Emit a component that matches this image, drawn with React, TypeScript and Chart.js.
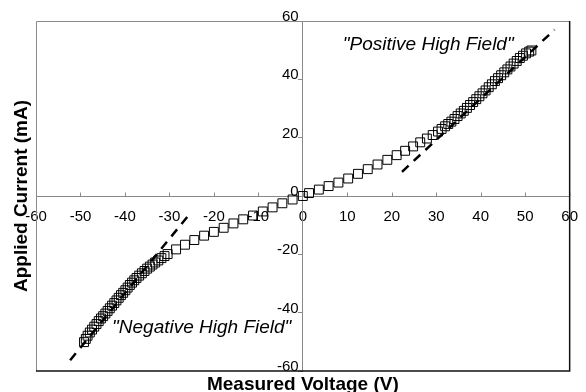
import React, { useEffect, useRef } from "react";
import { Chart, registerables } from "chart.js";

Chart.register(...registerables);

// Measured voltage (V) and applied current (mA), positive sweep
const posVoltage = [0, 1.4, 3.6, 5.8, 8.0, 10.2, 12.4, 14.6, 16.8, 19.0, 21.1, 23.0, 24.8, 26.4, 27.9, 29.2, 30.4, 31.2, 32.0, 32.7, 33.4, 34.1, 34.8, 35.5, 36.2, 36.9, 37.6, 38.3, 39.0, 39.7, 40.4, 41.1, 41.8, 42.5, 43.2, 43.9, 44.6, 45.3, 46.0, 46.7, 47.4, 48.1, 48.8, 49.5, 50.2, 50.9, 51.4];
const posCurrent = [0, 1.0, 2.2, 3.4, 4.6, 6.0, 7.6, 9.2, 10.8, 12.4, 14.0, 15.5, 17.0, 18.4, 19.7, 20.9, 22.1, 23.0, 23.9, 24.7, 25.5, 26.4, 27.4, 28.3, 29.2, 30.2, 31.2, 32.2, 33.2, 34.2, 35.2, 36.2, 37.3, 38.3, 39.4, 40.4, 41.4, 42.4, 43.4, 44.4, 45.4, 46.3, 47.3, 48.1, 48.9, 49.5, 49.9];

// Negative sweep
const negVoltage = [-2.3, -4.6, -6.8, -9.0, -11.2, -13.4, -15.6, -17.8, -20.0, -22.2, -24.4, -26.5, -28.5, -30.4, -31.1, -31.8, -32.5, -33.2, -33.8, -34.4, -35.0, -35.6, -36.2, -36.8, -37.4, -37.9, -38.4, -38.9, -39.4, -39.9, -40.4, -40.9, -41.4, -41.9, -42.4, -42.9, -43.4, -43.9, -44.4, -44.9, -45.4, -45.9, -46.4, -46.9, -47.4, -47.9, -48.4, -48.8, -49.2];
const negCurrent = [-1.2, -2.5, -3.9, -5.3, -6.7, -8.0, -9.4, -10.9, -12.3, -13.6, -15.1, -16.7, -18.3, -19.9, -20.6, -21.3, -22.1, -22.8, -23.5, -24.2, -24.9, -25.7, -26.5, -27.3, -28.1, -28.9, -29.7, -30.5, -31.4, -32.3, -33.2, -34.0, -34.9, -35.8, -36.7, -37.6, -38.5, -39.4, -40.3, -41.2, -42.0, -42.9, -43.9, -44.8, -45.8, -46.8, -47.9, -49.0, -50.1];

// High-field linear fits (endpoints)
const posFitV = [22.3, 56.6];
const posFitI = [8.3, 57.0];
const negFitV = [-26.0, -52.8];
const negFitI = [-7.2, -57.2];

const axisMin = -60;
const axisMax = 60;
const tickStep = 10;
const yStep = 20;

const FONT = '"Liberation Sans", Arial, sans-serif';

const toPts = (xs: number[], ys: number[]) => xs.map((x, i) => ({ x, y: ys[i] }));

const decorPlugin = {
  id: "decor",
  beforeDatasetsDraw(chart: any) {
    const { ctx, chartArea, scales } = chart;
    const { left, right, top, bottom } = chartArea;
    ctx.save();
    ctx.strokeStyle = "#8a8a8a";
    ctx.lineWidth = 1;
    ctx.beginPath();
    ctx.moveTo(left + 0.5, bottom);
    ctx.lineTo(left + 0.5, top + 0.5);
    ctx.lineTo(right, top + 0.5);
    ctx.stroke();
    ctx.strokeStyle = "#111";
    ctx.lineWidth = 1.5;
    ctx.beginPath();
    ctx.moveTo(right, top);
    ctx.lineTo(right, bottom);
    ctx.lineTo(left, bottom);
    ctx.stroke();
    // small tick marks above the x axis
    const y0 = Math.round(scales.y.getPixelForValue(0)) + 0.5;
    ctx.strokeStyle = "#888";
    ctx.lineWidth = 1;
    ctx.beginPath();
    for (let v = axisMin; v <= axisMax; v += tickStep) {
      const px = Math.round(scales.x.getPixelForValue(v)) + 0.5;
      ctx.moveTo(px, y0);
      ctx.lineTo(px, y0 - 4);
    }
    ctx.stroke();
    ctx.restore();
  },
  afterDraw(chart: any) {
    const { ctx, chartArea, scales } = chart;
    const xs = scales.x;
    const ys = scales.y;
    ctx.save();
    ctx.fillStyle = "#000";
    ctx.font = `italic 19px ${FONT}`;
    ctx.textAlign = "left";
    ctx.textBaseline = "alphabetic";
    ctx.fillText('"Positive High Field"', xs.getPixelForValue(9.0), ys.getPixelForValue(50));
    ctx.fillText('"Negative High Field"', xs.getPixelForValue(-42.9), ys.getPixelForValue(-47));

    ctx.font = `bold 19px ${FONT}`;
    ctx.textAlign = "center";
    ctx.fillText("Measured Voltage (V)", (chartArea.left + chartArea.right) / 2, 390);
    ctx.translate(26.5, (chartArea.top + chartArea.bottom) / 2);
    ctx.rotate(-Math.PI / 2);
    ctx.fillText("Applied Current (mA)", 0, 0);
    ctx.restore();
  },
};

export default function App() {
  const ref = useRef<HTMLCanvasElement | null>(null);
  useEffect(() => {
    document.body.style.margin = "0";
    const canvas = ref.current!;
    const chart = new Chart(canvas, {
      type: "scatter",
      data: {
        datasets: [
          {
            type: "line",
            data: toPts(posFitV, posFitI),
            borderColor: "#000",
            borderWidth: 2.5,
            borderDash: [9, 7],
            pointRadius: 0,
            showLine: true,
            fill: false,
            order: 0,
          } as any,
          {
            type: "line",
            data: toPts(negFitV, negFitI),
            borderColor: "#000",
            borderWidth: 2.5,
            borderDash: [9, 7],
            pointRadius: 0,
            showLine: true,
            fill: false,
            order: 0,
          } as any,
          {
            data: toPts(negVoltage, negCurrent).reverse().concat(toPts(posVoltage, posCurrent)),
            pointStyle: "rect",
            pointRadius: 6.3,
            borderColor: "#000",
            borderWidth: 1,
            backgroundColor: "rgba(0,0,0,0)",
            showLine: false,
            order: 1,
          },
        ],
      },
      options: {
        responsive: false,
        animation: false,
        layout: { padding: { left: 36, top: 21, right: 8, bottom: 21 } },
        plugins: { legend: { display: false }, tooltip: { enabled: false } },
        scales: {
          x: {
            type: "linear",
            min: axisMin,
            max: axisMax,
            position: { y: 0 } as any,
            grid: { drawOnChartArea: false, drawTicks: true, tickLength: 4, color: "rgba(0,0,0,0)" },
            border: { display: true, color: "#888", width: 1 },
            ticks: { stepSize: tickStep, color: "#000", font: { family: FONT, size: 15 }, padding: 8, maxRotation: 0 },
          },
          y: {
            type: "linear",
            min: axisMin,
            max: axisMax,
            position: { x: 0 } as any,
            grid: { drawOnChartArea: false, drawTicks: true, tickLength: 4, color: "#888" },
            border: { display: true, color: "#888", width: 1 },
            ticks: {
              stepSize: yStep,
              color: "#000",
              font: { family: FONT, size: 15 },
              padding: 10,
              labelOffset: -4,
              callback: (v: any) => `${v} `,
            },
          },
        },
      },
      plugins: [decorPlugin],
    });
    return () => chart.destroy();
  }, []);
  return (
    <div style={{ width: 586, height: 392 }}>
      <canvas ref={ref} width={586} height={392} />
    </div>
  );
}
